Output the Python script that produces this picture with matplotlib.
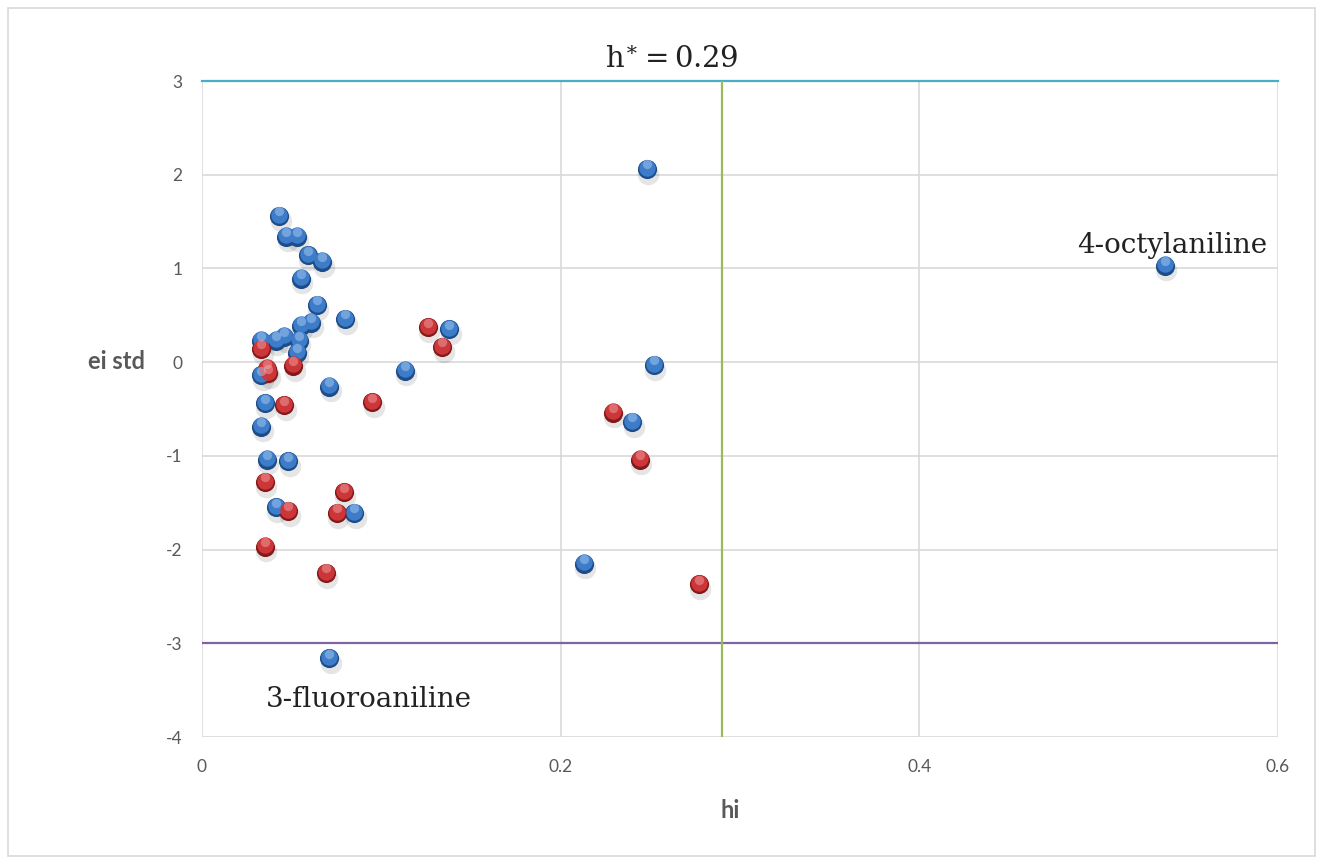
import matplotlib
matplotlib.use("Agg")
import matplotlib.pyplot as plt
from matplotlib.patches import Rectangle

plt.rcParams["mathtext.fontset"] = "dejavuserif"
plt.rcParams["font.family"] = ["Lato", "DejaVu Sans"]

# Data
blue_hi = [0.043, 0.047, 0.053, 0.059, 0.067, 0.055, 0.064, 0.080, 0.055, 0.061,
           0.046, 0.033, 0.041, 0.054, 0.053, 0.033, 0.071, 0.113, 0.138, 0.248,
           0.252, 0.240, 0.213, 0.537, 0.035, 0.033, 0.036, 0.048, 0.041, 0.085, 0.071]
blue_ei = [1.56, 1.34, 1.34, 1.14, 1.07, 0.89, 0.61, 0.46, 0.39, 0.42,
           0.27, 0.23, 0.23, 0.23, 0.10, -0.14, -0.26, -0.09, 0.35, 2.06,
           -0.03, -0.64, -2.15, 1.03, -0.44, -0.69, -1.04, -1.06, -1.55, -1.61, -3.16]
red_hi = [0.033, 0.036, 0.037, 0.051, 0.046, 0.095, 0.126, 0.134, 0.229, 0.244,
          0.277, 0.035, 0.048, 0.075, 0.079, 0.035, 0.069]
red_ei = [0.14, -0.07, -0.12, -0.04, -0.46, -0.43, 0.37, 0.16, -0.54, -1.04,
          -2.37, -1.28, -1.59, -1.61, -1.39, -1.97, -2.25]

h_star = 0.29
x_ticks = [0, 0.2, 0.4, 0.6]
x_tick_labels = ["0", "0.2", "0.4", "0.6"]
y_ticks = [-4, -3, -2, -1, 0, 1, 2, 3]

W, H = 1323, 864
fig = plt.figure(figsize=(W / 100, H / 100), dpi=100)
ax = fig.add_axes([202 / W, 1 - 737 / H, (1278 - 202) / W, (737 - 81) / H])

ax.set_xlim(0, 0.6)
ax.set_ylim(-4, 3)
ax.set_xticks(x_ticks)
ax.set_xticklabels(x_tick_labels)
ax.set_yticks(y_ticks)
ax.set_yticklabels([str(v) for v in y_ticks])
ax.set_axisbelow(True)
ax.grid(True, color="#d9d9d9", linewidth=1.2)
for s in ax.spines.values():
    s.set_visible(False)
ax.tick_params(length=0, labelsize=12.5, colors="#595959", pad=14)
ax.tick_params(axis="x", pad=16)

# reference lines
ax.axhline(3, color="#4BACC6", linewidth=1.6, zorder=1.5, clip_on=False)
ax.axhline(-3, color="#8064A2", linewidth=1.6, zorder=1.5)
ax.axvline(h_star, color="#9BBB59", linewidth=1.6, zorder=1.5)


def spheres(xs, ys, base, dark, light):
    # shadow
    ax.scatter([x + 0.0008 for x in xs], [y - 0.05 for y in ys], s=240, color="#000000",
               alpha=0.10, linewidths=0, zorder=2)
    ax.scatter(xs, ys, s=190, color=dark, linewidths=0, zorder=3)
    ax.scatter(xs, [y + 0.015 for y in ys], s=140, color=base, linewidths=0, zorder=4)
    ax.scatter(xs, [y + 0.05 for y in ys], s=45, color=light,
               alpha=0.45, linewidths=0, zorder=5)


spheres(blue_hi, blue_ei, "#3c7cc8", "#1d4c88", "#b5d4f5")
spheres(red_hi, red_ei, "#cc3638", "#84191b", "#f5b0b0")

ax.text(0.262, 3.23, r"$\mathrm{h}^{\ast}=\mathrm{0.29}$", ha="center", va="center",
        fontsize=21, color="#222222")
ax.text(0.541, 1.25, "4-octylaniline", ha="center", va="center", fontsize=20,
        family="DejaVu Serif", color="#222222")
ax.text(0.093, -3.6, "3-fluoroaniline", ha="center", va="center", fontsize=20,
        family="DejaVu Serif", color="#222222")

fig.text(117 / W, 1 - 362 / H, "ei std", ha="center", va="center", fontsize=17,
         fontweight="bold", color="#595959")
fig.text(730 / W, 1 - 810 / H, "hi", ha="center", va="center", fontsize=17,
         fontweight="bold", color="#595959")

fig.add_artist(Rectangle((8 / W, 8 / H), 1 - 16 / W, 1 - 16 / H, transform=fig.transFigure,
                         fill=False, edgecolor="#d9d9d9", linewidth=1.2))

fig.savefig("out.png", dpi=100, facecolor="white")
